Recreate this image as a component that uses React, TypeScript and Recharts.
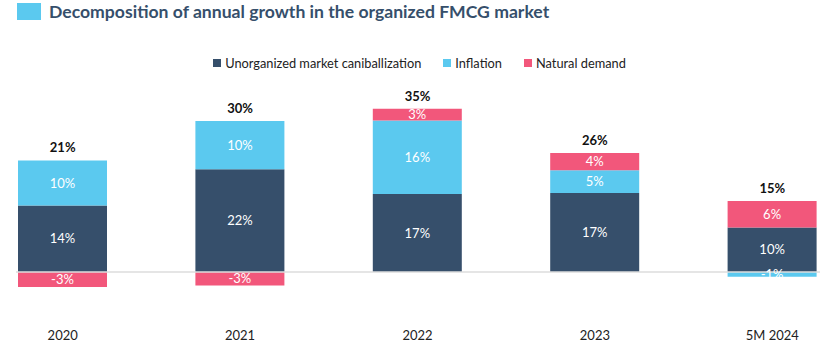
import React from 'react'
import { ComposedChart, Bar, Line, XAxis, YAxis, Legend, LabelList, ReferenceLine } from 'recharts'

const categories = ['2020', '2021', '2022', '2023', '5M 2024']
const unorganized = [14.3, 22.1, 16.8, 17.0, 9.6]
const inflation = [9.7, 10.4, 15.8, 4.9, -1]
const naturalDemand = [-3.2, -2.9, 2.5, 3.7, 5.7]
const totals = [21, 30, 35, 26, 15]

const NAVY = '#364f6b'
const BLUE = '#5bc9ef'
const PINK = '#f2577b'
const FONT = 'Lato, "Noto Sans", sans-serif'

const data = categories.map((name, i) => ({
  name,
  unorganized: unorganized[i],
  inflation: inflation[i],
  natural: naturalDemand[i],
  total: totals[i],
  // height of the positive part of the stack, where the total sits
  top: [unorganized[i], inflation[i], naturalDemand[i]].filter(v => v > 0).reduce((a, b) => a + b, 0),
}))

const legendItems = [
  { label: 'Unorganized market caniballization', color: NAVY },
  { label: 'Inflation', color: BLUE },
  { label: 'Natural demand', color: PINK },
]

const pct = (v: any) => `${Math.round(Number(v))}%`

const LegendContent = () => (
  <div style={{ display: 'flex', justifyContent: 'center', gap: 22, fontFamily: FONT, fontSize: 12.8, color: '#222' }}>
    {legendItems.map(it => (
      <div key={it.label} style={{ display: 'flex', alignItems: 'center' }}>
        <span style={{ width: 8, height: 8, background: it.color, marginRight: 4, display: 'inline-block' }} />
        {it.label}
      </div>
    ))}
  </div>
)

const ZeroLine = (props: any) => (
  <line x1={props.x1 + 42} x2={props.x2 - 41} y1={props.y1} y2={props.y2} stroke="#dcdcdc" strokeWidth={1.5} />
)

export default function App() {
  return (
    <div style={{ position: 'relative', width: 839, height: 351, overflow: 'hidden', background: '#fff', fontFamily: FONT }}>
      <style>{'body{margin:0}'}</style>
      <div style={{ position: 'absolute', left: 17, top: 3, width: 24, height: 17, background: BLUE }} />
      <div style={{ position: 'absolute', left: 49, top: 0, fontSize: 17.6, fontWeight: 700, color: NAVY, lineHeight: '24px', whiteSpace: 'nowrap' }}>
        Decomposition of annual growth in the organized FMCG market
      </div>
      <div style={{ position: 'absolute', left: -26, top: 0 }}>
        <ComposedChart width={887} height={351} data={data} stackOffset="sign" margin={{ top: 86, right: 0, bottom: 0, left: 0 }}>
          <XAxis dataKey="name" axisLine={false} tickLine={false} tickSize={0} tickMargin={31} height={51}
            tick={{ fill: '#222', fontSize: 13, fontFamily: FONT }} interval={0} />
          <YAxis type="number" domain={[-6, 40]} hide />
          <Legend verticalAlign="middle" align="center" content={LegendContent}
            wrapperStyle={{ top: 55, left: 26, width: 839 }} />
          <ReferenceLine y={0} shape={ZeroLine} />
          <Bar dataKey="unorganized" stackId="a" fill={NAVY} barSize={89} isAnimationActive={false}>
            <LabelList dataKey="unorganized" position="center" formatter={pct} fill="#fff" fontSize={13} fontFamily={FONT} />
          </Bar>
          <Bar dataKey="inflation" stackId="a" fill={BLUE} barSize={89} isAnimationActive={false}>
            <LabelList dataKey="inflation" position="center" formatter={pct} fill="#fff" fontSize={13} fontFamily={FONT} />
          </Bar>
          <Bar dataKey="natural" stackId="a" fill={PINK} barSize={89} isAnimationActive={false}>
            <LabelList dataKey="natural" position="center" formatter={pct} fill="#fff" fontSize={13} fontFamily={FONT} />
          </Bar>
          <Line dataKey="top" stroke="none" dot={false} activeDot={false} isAnimationActive={false}>
            <LabelList dataKey="total" position="top" offset={8} formatter={pct} fill="#111" fontSize={13} fontWeight={700} fontFamily={FONT} />
          </Line>
        </ComposedChart>
      </div>
    </div>
  )
}
